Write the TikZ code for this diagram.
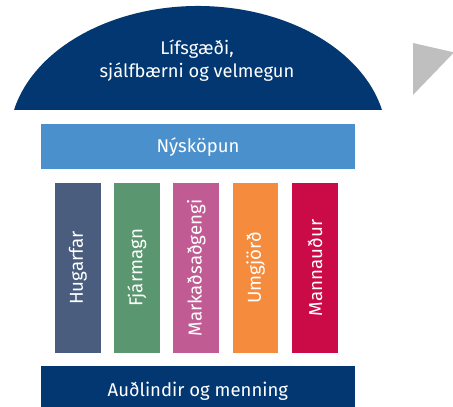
\documentclass[tikz,border=0pt]{standalone}
\usepackage{fontspec}
\setmainfont{Fira Sans}
\definecolor{navy}{HTML}{023771}
\definecolor{skyblue}{HTML}{4A90CC}
\definecolor{slate}{HTML}{4A5D7E}
\definecolor{sage}{HTML}{5A9670}
\definecolor{orchid}{HTML}{C15B94}
\definecolor{tangerine}{HTML}{F58B3C}
\definecolor{crimsonred}{HTML}{CB0A48}
\definecolor{arrowgray}{HTML}{BFBFBF}
\tikzset{
  bar/.style={rectangle, inner sep=0pt, text=white, font=\fontsize{18.5}{22}\selectfont},
  pillar/.style={bar, minimum width=45.6pt, minimum height=169.4pt},
  pillartext/.style={text=white, inner sep=0pt, rotate=90, font=\fontsize{18.7}{22}\selectfont}
}
\begin{document}
\begin{tikzpicture}[x=1pt,y=1pt]
\clip (0,0) rectangle (453,407);
\fill[white] (0,0) rectangle (453,407);
% dome
\fill[navy] (14,297) arc[start angle=167.06, end angle=12.94, x radius=188.8, y radius=134] -- cycle;
\node[text=white, align=center, font=\fontsize{18.3}{23}\selectfont] (dome) at (197,346.5) {Lífsgæði,\\sjálfbærni og velmegun};
% triangle
\fill[arrowgray] (413,364) -- (454,354.6) -- (413,312) -- cycle;
% innovation bar
\node[bar, fill=skyblue, minimum width=314pt, minimum height=45pt] (nysk) at (198,260.2) {Nýsköpun};
% pillars
\node[pillar, fill=slate] (p1) at (77.9,139) {};
\node[pillar, fill=sage] (p2) at (136.9,139) {};
\node[pillar, fill=orchid] (p3) at (196.2,139) {};
\node[pillar, fill=tangerine] (p4) at (255.5,139) {};
\node[pillar, fill=crimsonred] (p5) at (315,139) {};
\node[pillartext] (t1) at (p1.center) {Hugarfar};
\node[pillartext] (t2) at (p2.center) {Fjármagn};
\node[pillartext] (t3) at (p3.center) {Markaðsaðgengi};
\node[pillartext] (t4) at (p4.center) {Umgjörð};
\node[pillartext] (t5) at (p5.center) {Mannauður};
% base bar
\node[bar, fill=navy, minimum width=313.7pt, minimum height=50pt] (base) at (197.85,16) {Auðlindir og menning};
\end{tikzpicture}
\end{document}
